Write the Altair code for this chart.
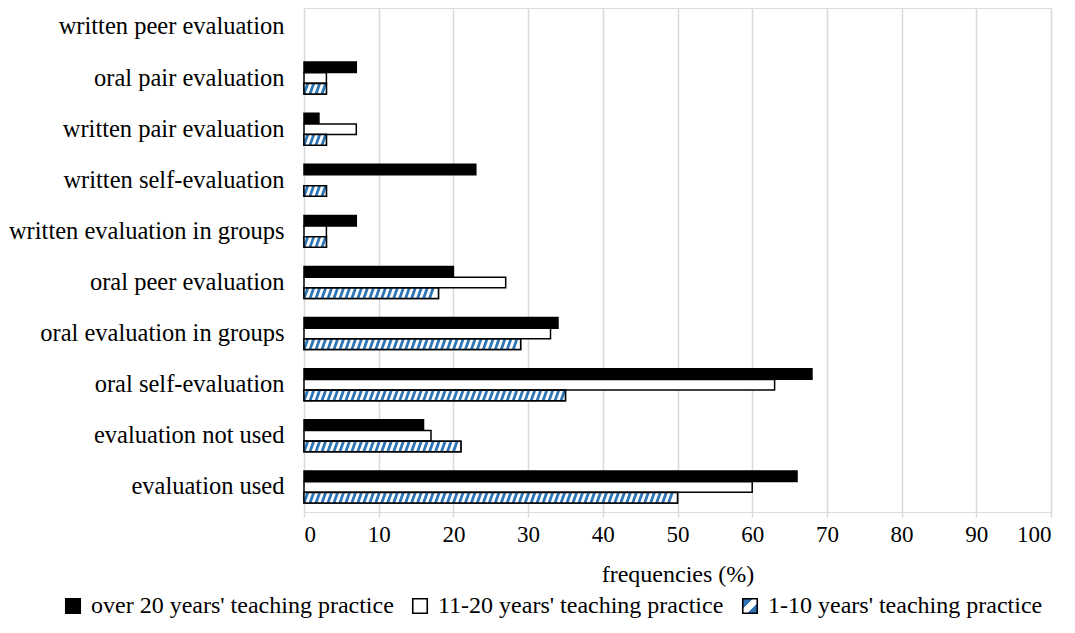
import json
import numpy as np
import pandas as pd
import altair as alt

# ---- data ----
categories = [
    "written peer evaluation",
    "oral pair evaluation",
    "written pair evaluation",
    "written self-evaluation",
    "written evaluation in groups",
    "oral peer evaluation",
    "oral evaluation in groups",
    "oral self-evaluation",
    "evaluation not used",
    "evaluation used",
]
series_names = [
    "over 20 years' teaching practice",
    "11-20 years' teaching practice",
    "1-10 years' teaching practice",
]
over_20 = [0, 7, 2, 23, 7, 20, 34, 68, 16, 66]
years_11_20 = [0, 3, 7, 0, 3, 27, 33, 63, 17, 60]
years_1_10 = [0, 3, 3, 3, 3, 18, 29, 35, 21, 50]
x_ticks = [0, 10, 20, 30, 40, 50, 60, 70, 80, 90, 100]

# ---- derived tables ----
BAR_STEP = 0.21
HALF = 0.103
HATCH_GAP = 0.8
HATCH_SLANT = 0.5
BLUE = "#2E75B6"
FONT = "Liberation Serif"

rows = []
for s_i, (name, vals) in enumerate(zip(series_names, [over_20, years_11_20, years_1_10])):
    for c_i, (cat, v) in enumerate(zip(categories, vals)):
        if v <= 0:
            continue
        center = c_i + (s_i - 1) * BAR_STEP
        rows.append(dict(category=cat, series=name, value=v, start=0,
                         top=center - HALF, bottom=center + HALF, hatched=(s_i == 2)))
bars = pd.DataFrame(rows)
hatched = bars[bars["hatched"]]

hrows = []
for _, r in hatched.iterrows():
    for x0 in np.arange(0, r["value"] - HATCH_SLANT + 1e-9, HATCH_GAP):
        hrows.append(dict(x0=x0, x1=x0 + HATCH_SLANT, ybot=r["bottom"], ytop=r["top"]))
hatch = pd.DataFrame(hrows)

label_expr = json.dumps(categories) + "[datum.value]"

x_scale = alt.Scale(domain=[0, 100], nice=False)
y_scale = alt.Scale(domain=[-0.37, 9.49], reverse=True, nice=False, zero=False)

x_axis = alt.Axis(values=x_ticks, grid=True, gridColor="#d9d9d9", gridWidth=1.5,
                  ticks=True, tickColor="#d9d9d9", tickWidth=1.5, tickSize=5,
                  domain=False, labelFontSize=23, labelPadding=6, labelColor="black",
                  labelFont=FONT, labelLimit=0, title="frequencies (%)", titleFont=FONT,
                  titleFontSize=24, titleFontWeight="normal", titleColor="black",
                  titlePadding=16)
y_axis = alt.Axis(values=list(range(len(categories))), labelExpr=label_expr,
                  grid=False, ticks=False, domain=False, labelPadding=20,
                  labelFontSize=24.5, labelFont=FONT, labelColor="black",
                  labelLimit=0, title=None)

gradient_expr = (
    "{gradient: 'linear', x1: 0, y1: 0, x2: 1, y2: 1, stops: ["
    f"{{offset: 0, color: '{BLUE}'}}, {{offset: 0.36, color: '{BLUE}'}}, "
    "{offset: 0.36, color: 'white'}, {offset: 0.64, color: 'white'}, "
    f"{{offset: 0.64, color: '{BLUE}'}}, {{offset: 1, color: '{BLUE}'}}]}}"
)

base_bars = alt.Chart(bars).mark_rect(stroke="black", strokeWidth=1.5).encode(
    x=alt.X("start:Q", scale=x_scale, axis=x_axis),
    x2="value:Q",
    y=alt.Y("top:Q", scale=y_scale, axis=y_axis),
    y2="bottom:Q",
    color=alt.Color(
        "series:N",
        scale=alt.Scale(domain=series_names,
                        range=["black", "white", alt.ExprRef(expr=gradient_expr)]),
        legend=alt.Legend(orient="none", legendX=-243, legendY=586, direction="horizontal",
                          columns=3, title=None, labelFont=FONT, labelFontSize=24,
                          labelColor="black", labelLimit=0, symbolType="square",
                          symbolSize=210, symbolStrokeColor="black", symbolStrokeWidth=1.6,
                          columnPadding=14, labelOffset=6),
    ),
)

white_under = alt.Chart(hatched).mark_rect(fill="white").encode(
    x="start:Q", x2="value:Q", y="top:Q", y2="bottom:Q"
)

stripes = alt.Chart(hatch).mark_rule(color=BLUE, strokeWidth=2.8).encode(
    x="x0:Q", x2="x1:Q", y="ybot:Q", y2="ytop:Q"
)

outline = alt.Chart(hatched).mark_rect(fill="transparent", stroke="black", strokeWidth=1.5).encode(
    x="start:Q", x2="value:Q", y="top:Q", y2="bottom:Q"
)

chart = alt.layer(base_bars, white_under, stripes, outline).properties(
    width=747, height=504,
    padding={"left": 0, "top": 0, "right": 12, "bottom": 0},
).configure_view(stroke=None).configure(font=FONT, background="white")

chart.save("out.html", embed_options={"renderer": "svg", "actions": False})
